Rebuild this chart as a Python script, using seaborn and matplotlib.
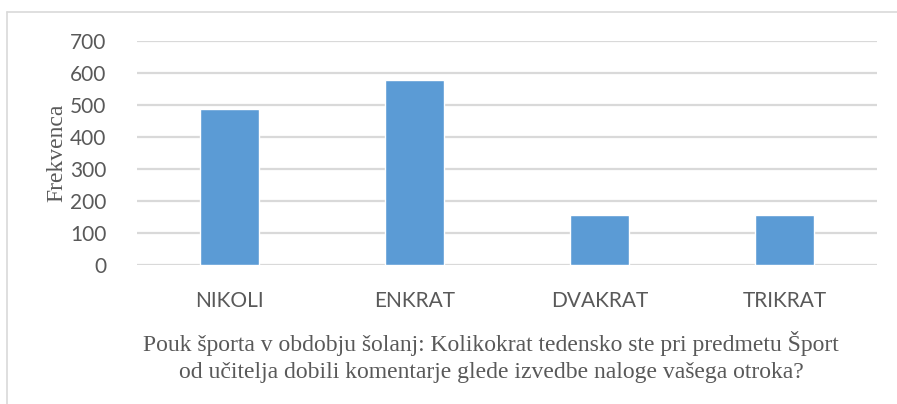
import matplotlib
matplotlib.use('Agg')
import matplotlib.pyplot as plt
import seaborn as sns
import pandas as pd
from matplotlib.lines import Line2D

categories = ['NIKOLI', 'ENKRAT', 'DVAKRAT', 'TRIKRAT']
frequencies = [487, 578, 156, 156]
y_ticks = [0, 100, 200, 300, 400, 500, 600, 700]

df = pd.DataFrame({'odgovor': categories, 'frekvenca': frequencies})

sns.set_theme(style='white')
plt.rcParams['font.family'] = ['Lato', 'DejaVu Sans']

text_col = '#595959'
grid_col = '#D9D9D9'

fig = plt.figure(figsize=(8.97, 4.04), dpi=100)
ax = fig.add_axes([137/897, 1 - 265/404, (877-137)/897, (265-41.3)/404])

sns.barplot(data=df, x='odgovor', y='frekvenca', color='#5B9BD5', saturation=1,
            width=0.32, ax=ax, zorder=3)

ax.set_ylim(0, 700)
ax.set_yticks(y_ticks)
ax.set_xlim(-0.5, 3.5)
for t in y_ticks:
    ax.axhline(t, color=grid_col, lw=1.6, zorder=1)
for s in ax.spines.values():
    s.set_visible(False)
ax.tick_params(axis='both', length=0, labelsize=15, colors=text_col)
ax.tick_params(axis='y', pad=22)
ax.tick_params(axis='x', pad=19)
ax.set_xlabel('')
ax.set_ylabel('')

serif = ['Liberation Serif', 'DejaVu Serif']
fig.text(57/897, 1 - 153/404, 'Frekvenca', rotation=90, ha='center', va='center',
         fontsize=17, color=text_col, family=serif)
fig.text(491/897, 1 - 357/404,
         'Pouk športa v obdobju šolanj: Kolikokrat tedensko ste pri predmetu Šport\n'
         'od učitelja dobili komentarje glede izvedbe naloge vašega otroka?',
         ha='center', va='center', fontsize=17, color=text_col, family=serif,
         linespacing=1.4)

# chart frame (left and top edge)
fig.add_artist(Line2D([7/897, 7/897], [0, 1 - 12/404], color=grid_col, lw=1.2))
fig.add_artist(Line2D([7/897, 1], [1 - 12/404, 1 - 12/404], color=grid_col, lw=1.2))

fig.savefig('out.png', dpi=100)
